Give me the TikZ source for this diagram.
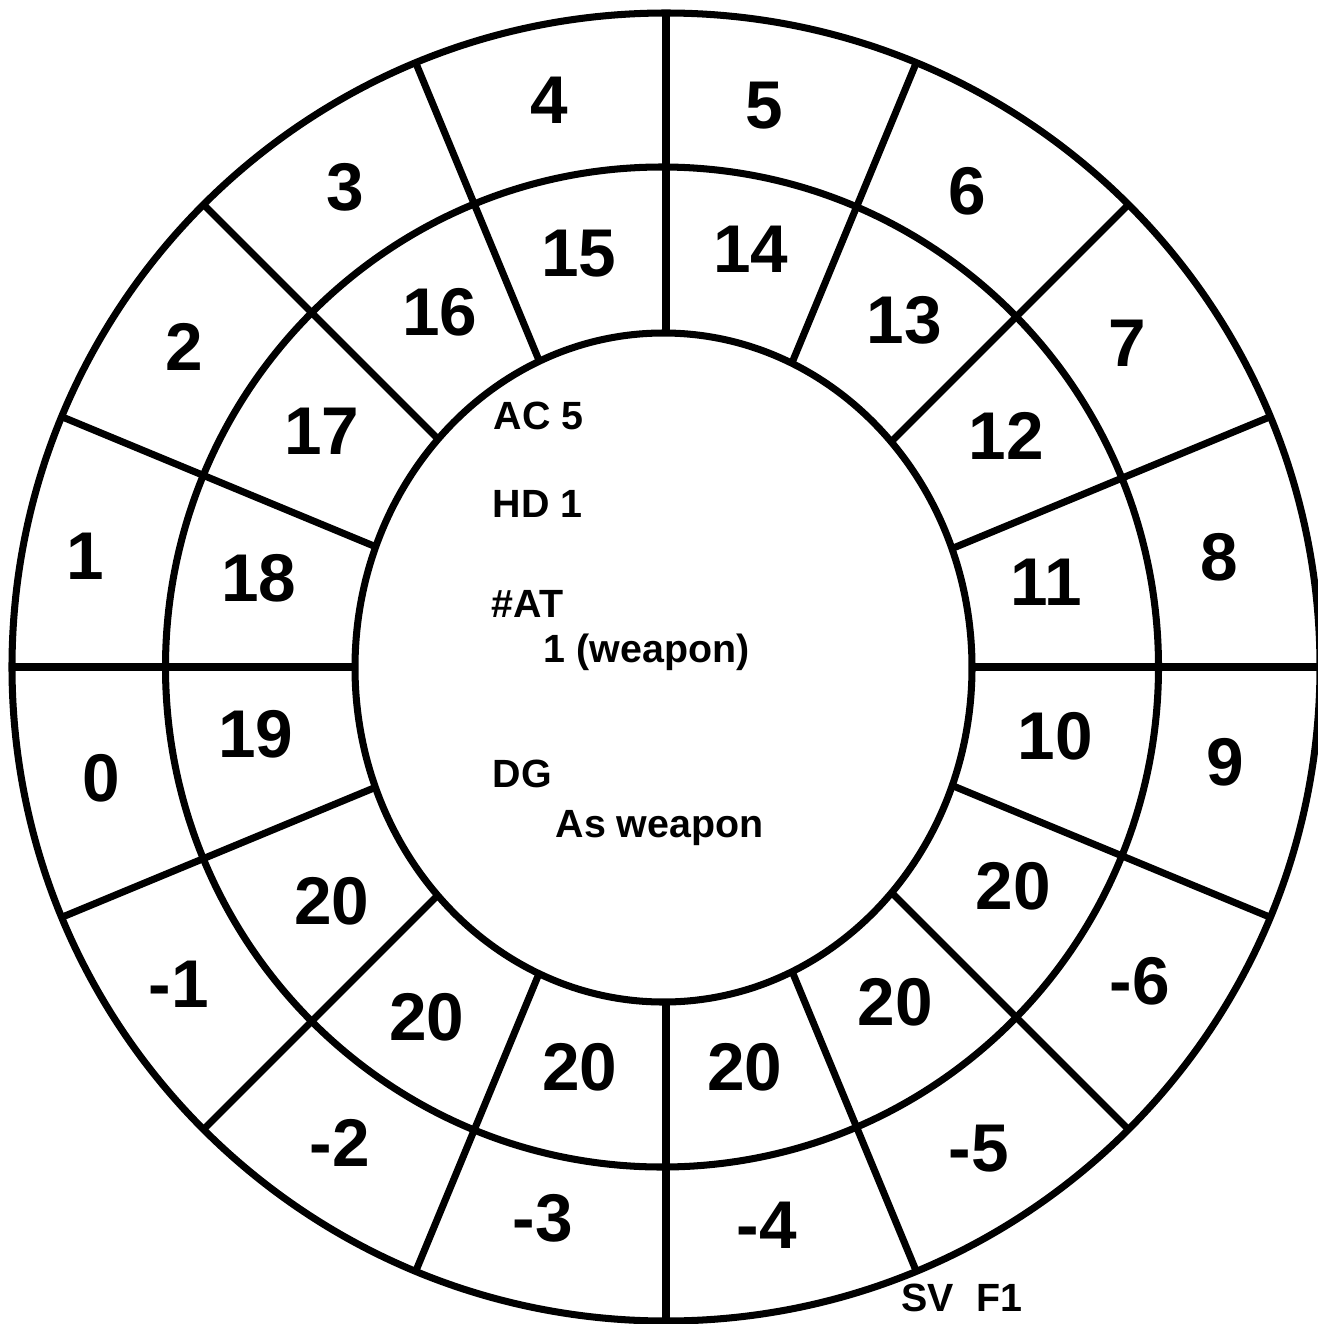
\documentclass[tikz,border=0pt]{standalone}
\usepackage{fontspec}
\setmainfont{Liberation Sans}
\begin{document}
\begin{tikzpicture}[x=0.01cm,y=-0.01cm,
  ring/.style={line width=2pt,black},
  num/.style={inner sep=0pt,font=\fontsize{19.2}{19}\selectfont\bfseries},
  info/.style={inner sep=0pt,anchor=base west,font=\fontsize{11.2}{12}\selectfont\bfseries}]
\path[use as bounding box,fill=white] (0,0) rectangle (1318,1324);
\coordinate (c) at (666,667);
% radial dividers
\foreach \a in {0,22.5,...,337.5}
  \draw[ring] (c) -- ++(\a:654);
% inner field
\fill[white] (663.5,667.5) ellipse [x radius=308.5, y radius=334.5];
\draw[ring] (663.5,667.5) ellipse [x radius=308.5, y radius=334.5];
\draw[ring] (662,667) ellipse [x radius=496.5, y radius=500];
\draw[ring] (c) circle [radius=654];
% outer ring
\node[num] (o4) at (549,100) {4};
\node[num] (o5) at (764,106) {5};
\node[num] (o6) at (967,191) {6};
\node[num] (o7) at (1127,343) {7};
\node[num] (o8) at (1219,557) {8};
\node[num] (o9) at (1225,762) {9};
\node[num] (om6) at (1140,981) {-6};
\node[num] (om5) at (979,1149) {-5};
\node[num] (om4) at (767,1225) {-4};
\node[num] (om3) at (543,1218) {-3};
\node[num] (om2) at (340,1143) {-2};
\node[num] (om1) at (179,984) {-1};
\node[num] (o0) at (101,778) {0};
\node[num] (o1) at (85,556) {1};
\node[num] (o2) at (184,347) {2};
\node[num] (o3) at (345,187) {3};
% middle ring
\node[num] (m15) at (579,254) {15};
\node[num] (m14) at (751,249) {14};
\node[num] (m13) at (904,320) {13};
\node[num] (m12) at (1006,436) {12};
\node[num] (m11) at (1046,582) {11};
\node[num] (m10) at (1055,736) {10};
\node[num] (m20a) at (1013,886) {20};
\node[num] (m20b) at (895,1002) {20};
\node[num] (m20c) at (745,1067) {20};
\node[num] (m20d) at (580,1067) {20};
\node[num] (m20e) at (427,1017) {20};
\node[num] (m20f) at (332,901) {20};
\node[num] (m19) at (256,734) {19};
\node[num] (m18) at (259,578) {18};
\node[num] (m17) at (322,431) {17};
\node[num] (m16) at (440,312) {16};
% centre information
\node[info] (ac) at (493,429) {AC 5};
\node[info] (hd) at (492,517) {HD 1};
\node[info] (at) at (491,617) {\#AT};
\node[info] (atv) at (543,662) {1 (weapon)};
\node[info] (dg) at (492,787) {DG};
\node[info] (dgv) at (555,837) {As weapon};
\node[info] (sv) at (901,1311) {SV\ \ F1};
\end{tikzpicture}
\end{document}
